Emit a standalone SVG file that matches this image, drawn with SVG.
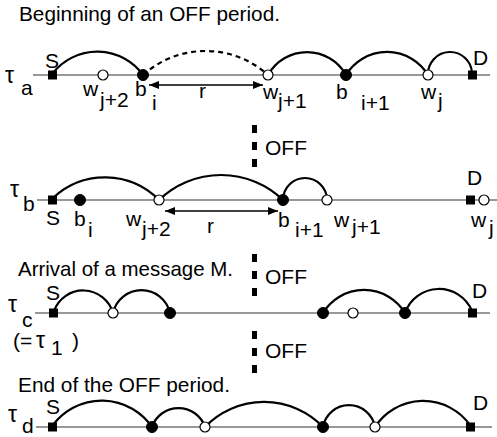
<svg xmlns="http://www.w3.org/2000/svg" width="497" height="437" viewBox="0 0 497 437">
<style>
text{font-family:"Liberation Sans",Arial,sans-serif;font-size:21px;fill:#000}
.tau{font-size:23px}
.base{stroke:#333;stroke-width:1.2;fill:none}
.arc{stroke:#000;stroke-width:2.2;fill:none}
.dash{stroke:#000;stroke-width:2.2;fill:none;stroke-dasharray:5 4}
.sq{fill:#000}
.fc{fill:#000;stroke:#000;stroke-width:1}
.oc{fill:#fff;stroke:#000;stroke-width:1.2}
.arr{stroke:#000;stroke-width:1.3;fill:none;marker-start:url(#ah);marker-end:url(#ah)}
.off{fill:#000}
</style>
<defs>
<marker id="ah" viewBox="0 0 10 8" refX="10" refY="4" markerWidth="10" markerHeight="8" markerUnits="userSpaceOnUse" orient="auto-start-reverse">
<path d="M0,0 L10,4 L0,8 z" fill="#000"/>
</marker>
</defs>

<!-- titles -->
<text x="19" y="21" textLength="261" lengthAdjust="spacingAndGlyphs">Beginning of an OFF period.</text>
<text x="18" y="276" textLength="215" lengthAdjust="spacingAndGlyphs">Arrival of a message M.</text>
<text x="18" y="392" textLength="212" lengthAdjust="spacingAndGlyphs">End of the OFF period.</text>

<!-- OFF markers -->
<g id="off1">
<rect class="off" x="252" y="125" width="5" height="8"/><rect class="off" x="252" y="142" width="5" height="8"/><rect class="off" x="252" y="159" width="5" height="8"/>
<text x="265" y="155" textLength="42" lengthAdjust="spacingAndGlyphs">OFF</text>
</g>
<g id="off2">
<rect class="off" x="252" y="254" width="5" height="8"/><rect class="off" x="252" y="271" width="5" height="8"/><rect class="off" x="252" y="288" width="5" height="8"/>
<text x="265" y="284" textLength="42" lengthAdjust="spacingAndGlyphs">OFF</text>
</g>
<g id="off3">
<rect class="off" x="252" y="331" width="5" height="8"/><rect class="off" x="252" y="348" width="5" height="8"/><rect class="off" x="252" y="365" width="5" height="8"/>
<text x="265" y="358" textLength="42" lengthAdjust="spacingAndGlyphs">OFF</text>
</g>

<!-- connectors -->
<g id="connectors">
<!-- row a -->
<line class="base" x1="33" y1="75" x2="490" y2="75"/>
<path class="arc" d="M53,73 A56.5,56.5 0 0 1 143,75"/>
<path class="dash" d="M143,75 A93.4,93.4 0 0 1 268,75"/>
<path class="arc" d="M268,75 A44.6,44.6 0 0 1 346,75"/>
<path class="arc" d="M346,75 A48,48 0 0 1 428,75"/>
<path class="arc" d="M428,75 A22,22 0 0 1 472,73"/>
<line class="arr" x1="149" y1="85" x2="263" y2="85"/>
<!-- row b -->
<line class="base" x1="37" y1="200" x2="497" y2="200"/>
<path class="arc" d="M53,198 A76,76 0 0 1 159,200"/>
<path class="arc" d="M159,200 A89.4,89.4 0 0 1 283,200"/>
<path class="arc" d="M283,200 A22,22 0 0 1 327,200"/>
<line class="arr" x1="165" y1="211" x2="278" y2="211"/>
<!-- row c -->
<line class="base" x1="35" y1="313" x2="490" y2="313"/>
<path class="arc" d="M54,311 A31,31 0 0 1 113,313"/>
<path class="arc" d="M113,313 A29.2,29.2 0 0 1 170,313"/>
<path class="arc" d="M323,313 A48,48 0 0 1 405,313"/>
<path class="arc" d="M405,313 A35.9,35.9 0 0 1 472,311"/>
<!-- row d -->
<line class="base" x1="36" y1="427" x2="492" y2="427"/>
<path class="arc" d="M53,425 A61,61 0 0 1 152,427"/>
<path class="arc" d="M152,427 A28,28 0 0 1 205,427"/>
<path class="arc" d="M205,427 A82,82 0 0 1 323,427"/>
<path class="arc" d="M323,427 A26.4,26.4 0 0 1 375,427"/>
<path class="arc" d="M375,427 A57.6,57.6 0 0 1 470,425"/>
</g>

<!-- row a -->
<g id="tau_a"><text class="tau" x="5" y="83">τ</text><text x="21" y="95">a</text></g>
<g id="a_S"><rect class="sq" x="48" y="70.5" width="9" height="9"/><text x="45" y="68">S</text></g>
<g id="a_wj2"><circle class="oc" cx="103" cy="75" r="5"/><text x="83" y="96">w</text><text x="100" y="107">j+2</text></g>
<g id="a_bi"><circle class="fc" cx="143" cy="75" r="5.5"/><text x="135" y="96">b</text><text x="152" y="110">i</text></g>
<g id="a_r"><text x="199" y="98">r</text></g>
<g id="a_wj1"><circle class="oc" cx="268" cy="75" r="5"/><text x="263" y="99">w</text><text x="278" y="108">j+1</text></g>
<g id="a_bi1"><circle class="fc" cx="346" cy="75" r="5.5"/><text x="336" y="99">b</text><text x="361" y="110">i+1</text></g>
<g id="a_wj"><circle class="oc" cx="428" cy="75" r="5"/><text x="421" y="99">w</text><text x="438" y="108">j</text></g>
<g id="a_D"><rect class="sq" x="468" y="70.5" width="9" height="9"/><text x="473" y="65">D</text></g>

<!-- row b -->
<g id="tau_b"><text class="tau" x="10" y="197">τ</text><text x="23" y="211">b</text></g>
<g id="b_S"><rect class="sq" x="48" y="195.5" width="9" height="9"/><text x="46" y="225">S</text></g>
<g id="b_bi"><circle class="fc" cx="80" cy="200" r="5.5"/><text x="74" y="226">b</text><text x="88" y="237">i</text></g>
<g id="b_wj2"><circle class="oc" cx="159" cy="200" r="5"/><text x="126" y="226">w</text><text x="142" y="236">j+2</text></g>
<g id="b_r"><text x="207" y="233">r</text></g>
<g id="b_bi1"><circle class="fc" cx="283" cy="200" r="5.5"/><text x="278" y="227">b</text><text x="295" y="237">i+1</text></g>
<g id="b_wj1"><circle class="oc" cx="327" cy="200" r="5"/><text x="334" y="227">w</text><text x="352" y="234">j+1</text></g>
<g id="b_D"><rect class="sq" x="466" y="195.5" width="9" height="9"/><text x="467" y="185">D</text></g>
<g id="b_wj"><circle class="oc" cx="484" cy="200" r="5"/><text x="471" y="227">w</text><text x="489" y="235">j</text></g>

<!-- row c -->
<g id="tau_c"><text class="tau" x="8" y="312">τ</text><text x="22" y="327">c</text></g>
<g id="eq"><text x="13" y="348">(=</text><text class="tau" x="36" y="348">τ</text><text x="51" y="355">1</text><text x="72" y="348">)</text></g>
<g id="c_S"><rect class="sq" x="49" y="308.5" width="9" height="9"/><text x="46" y="300">S</text></g>
<g id="c_o1"><circle class="oc" cx="113" cy="313" r="5"/></g>
<g id="c_f1"><circle class="fc" cx="170" cy="313" r="5.5"/></g>
<g id="c_f2"><circle class="fc" cx="323" cy="313" r="5.5"/></g>
<g id="c_o2"><circle class="oc" cx="353" cy="313" r="5"/></g>
<g id="c_f3"><circle class="fc" cx="405" cy="313" r="5.5"/></g>
<g id="c_D"><rect class="sq" x="468" y="308.5" width="9" height="9"/><text x="472" y="298">D</text></g>

<!-- row d -->
<g id="tau_d"><text class="tau" x="8" y="422">τ</text><text x="22" y="433">d</text></g>
<g id="d_S"><rect class="sq" x="48" y="422.5" width="9" height="9"/><text x="46" y="414">S</text></g>
<g id="d_f1"><circle class="fc" cx="152" cy="427" r="5.5"/></g>
<g id="d_o1"><circle class="oc" cx="205" cy="427" r="5"/></g>
<g id="d_f2"><circle class="fc" cx="323" cy="427" r="5.5"/></g>
<g id="d_o2"><circle class="oc" cx="375" cy="427" r="5"/></g>
<g id="d_D"><rect class="sq" x="466" y="422.5" width="9" height="9"/><text x="473" y="410">D</text></g>
</svg>
